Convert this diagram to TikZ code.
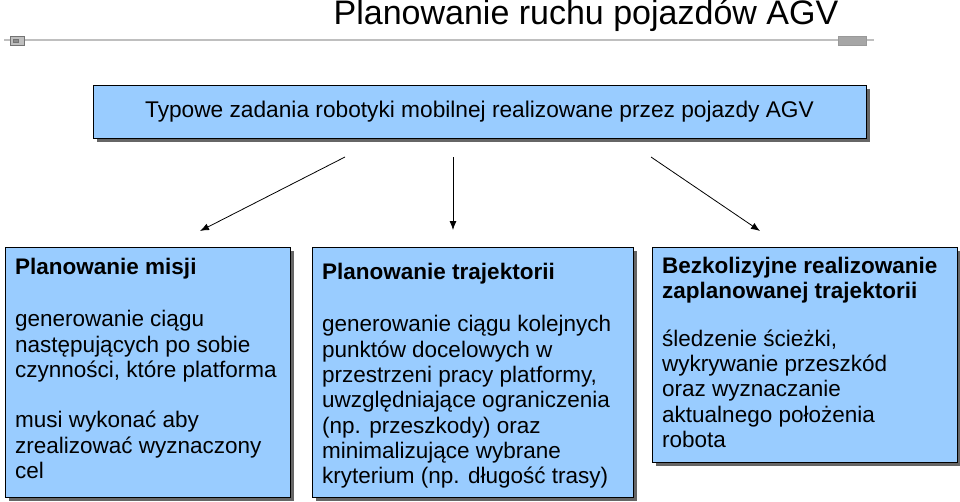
\documentclass[tikz,border=0pt]{standalone}
\usepackage{fontspec}
\setmainfont{Liberation Sans}
\usetikzlibrary{arrows.meta}
\begin{document}
\begin{tikzpicture}[x=1pt,y=-1pt,
  box/.style={draw=black,line width=0.8pt,fill=boxblue},
  shad/.style={fill=black!60,draw=none},
  txt/.style={anchor=north west,align=left,inner sep=0pt,font=\fontsize{22.5}{25.3}\selectfont},
  arr/.style={-{Latex[length=9pt,width=7pt]},line width=0.8pt}]
\definecolor{boxblue}{HTML}{99CCFF}
\useasboundingbox (0,0) rectangle (960,501);
\node[anchor=center,font=\fontsize{34}{38}\selectfont] (title) at (586,16) {Planowanie ruchu pojazdów AGV};
\draw[black!25,line width=1.2pt] (4,40) -- (874,40);
\draw[black!55,fill=black!25] (10,36) rectangle (24,45);
\draw[black!55,fill=black!45] (13,39) rectangle (18,42);
\draw[black!40,fill=black!35] (838,36) rectangle (866,45);
% top box
\fill[shad] (97,89) rectangle (870,142);
\draw[box] (93,85) rectangle (866,138);
\node[font=\fontsize{22.7}{26}\selectfont] (top) at (479.5,111.5) {Typowe zadania robotyki mobilnej realizowane przez pojazdy AGV};
% bottom boxes
\fill[shad] (9,251) rectangle (294,501);
\draw[box] (5,247) rectangle (290,497);
\fill[shad] (316,251) rectangle (637,501);
\draw[box] (312,247) rectangle (633,497);
\fill[shad] (656,251) rectangle (961,466);
\draw[box] (652,247) rectangle (957,462);
\node[txt] (b1) at (15,258) {\textbf{Planowanie misji}\\[27pt]generowanie ciągu\\następujących po sobie\\czynności, które platforma\\[25pt]musi wykonać aby\\zrealizować wyznaczony\\cel};
\node[txt] (b2) at (322,263) {\textbf{Planowanie trajektorii}\\[27pt]generowanie ciągu kolejnych\\punktów docelowych w\\przestrzeni pracy platformy,\\uwzględniające ograniczenia\\(np. przeszkody) oraz\\minimalizujące wybrane\\kryterium (np. długość trasy)};
\node[txt] (b3) at (662,257) {\textbf{Bezkolizyjne realizowanie}\\\textbf{zaplanowanej trajektorii}\\[22pt]śledzenie ścieżki,\\wykrywanie przeszkód\\oraz wyznaczanie\\aktualnego położenia\\robota};
\coordinate (s1) at (345,157); \coordinate (e1) at (200,231);
\coordinate (s2) at (453,157); \coordinate (e2) at (453,230);
\coordinate (s3) at (651,157); \coordinate (e3) at (760,231);
\draw[arr] (s1) -- (e1);
\draw[arr] (s2) -- (e2);
\draw[arr] (s3) -- (e3);
\end{tikzpicture}
\end{document}
